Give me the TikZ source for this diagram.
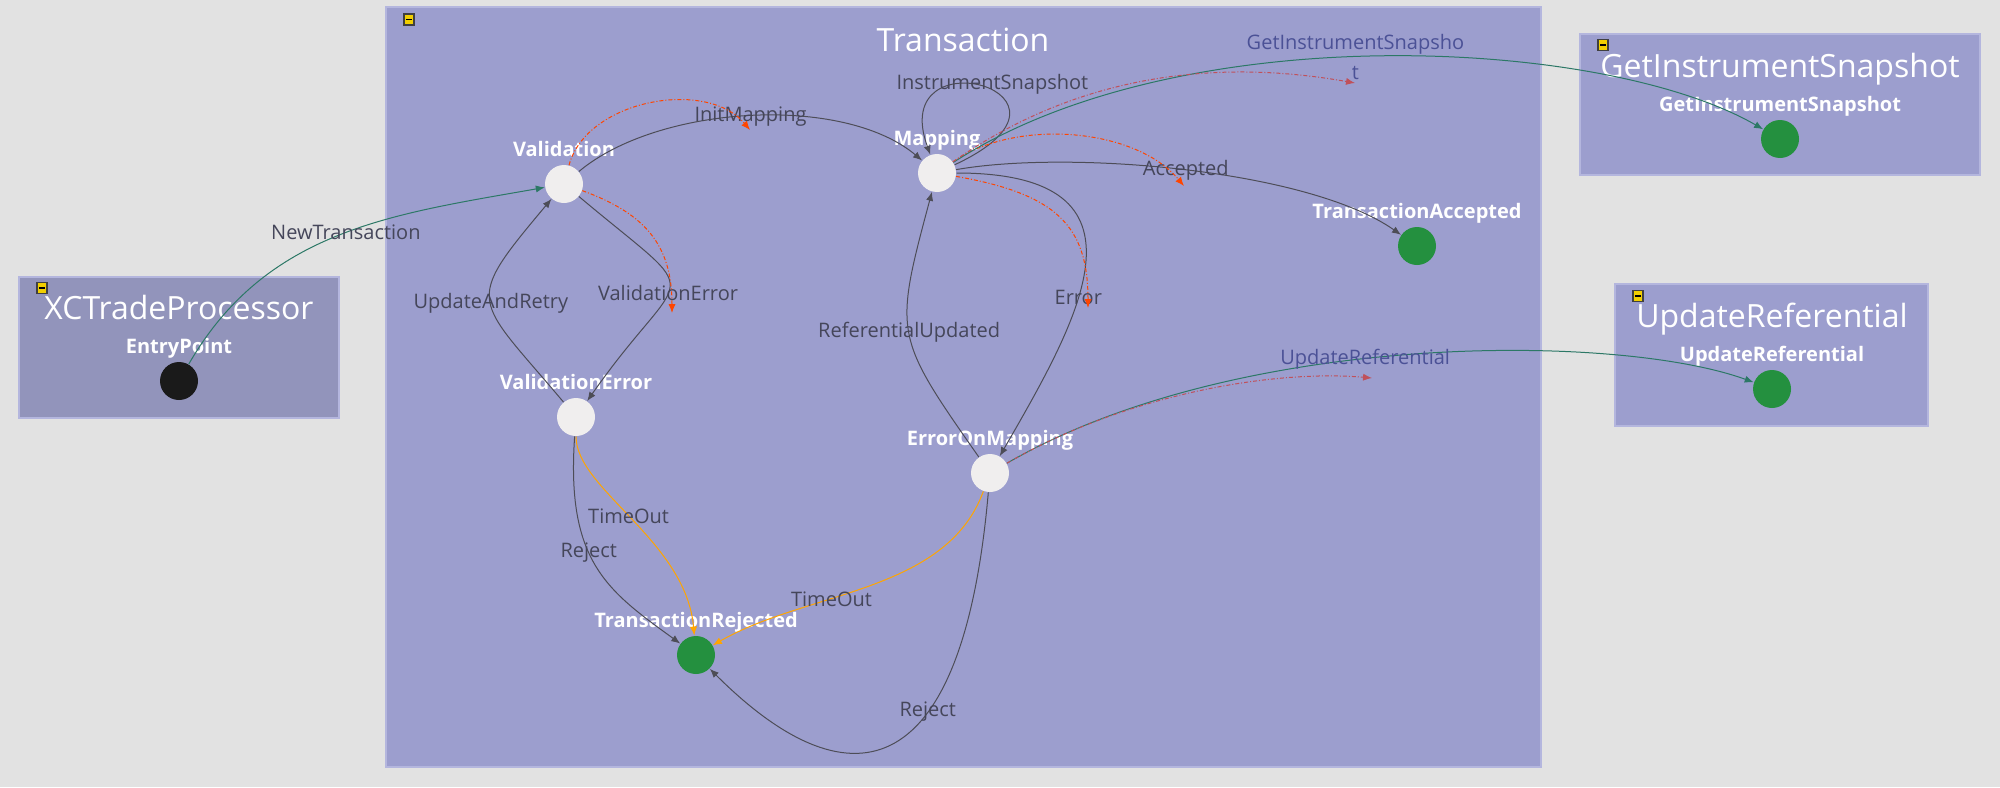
\documentclass[tikz,border=0pt]{standalone}
\usepackage{fontspec}
\setmainfont{Open Sans}
\usepackage{tikz}
\usetikzlibrary{positioning, arrows.meta}

\definecolor{canvasC}{HTML}{E2E2E2}
\definecolor{panelC}{HTML}{9C9ECE}
\definecolor{panelEdge}{HTML}{B4B6DE}
\definecolor{hostC}{HTML}{9294BB}
\definecolor{stateC}{HTML}{F0EEEE}
\definecolor{doneC}{HTML}{24903F}
\definecolor{startC}{HTML}{1A1A1A}
\definecolor{wireC}{HTML}{4D4D57}
\definecolor{textC}{HTML}{45465A}
\definecolor{linkC}{HTML}{2C7866}
\definecolor{linkText}{HTML}{4B5196}
\definecolor{sigC}{HTML}{FF4500}
\definecolor{sigLink}{HTML}{C0505A}
\definecolor{timeC}{HTML}{FFA500}
\definecolor{iconC}{HTML}{F2CF00}

\begin{document}
\begin{tikzpicture}[
        x=0.5pt, y=0.5pt,
        on grid,
        >={Latex[length=4.5pt,width=3.6pt]},
        line width=0.5pt,
        state/.style={circle, fill=stateC, minimum size=19pt, inner sep=0pt},
        endstate/.style={state, fill=doneC},
        entrystate/.style={state, fill=startC},
        stname/.style={font=\bfseries\fontsize{10}{12}\selectfont, text=white, inner sep=0pt, text height=7.5pt, text depth=2.5pt},
        every label/.style={stname},
        label distance=1.3pt,
        panel/.style={fill=panelC, draw=panelEdge, line width=0.75pt},
        paneltitle/.style={font=\fontsize{16}{19}\selectfont, text=white, inner sep=0pt, anchor=base},
        foldbox/.style={draw=black!75, fill=iconC, minimum width=5pt, minimum height=5.5pt, inner sep=0pt, line width=0.6pt},
        every edge/.style={draw, ->, wireC},
        lbl/.style={font=\fontsize{10}{12}\selectfont, text=textC, inner sep=0pt}, % edge labels
        link/.style={draw=linkC},
        sig/.style={draw=sigC, dash pattern=on 2pt off 1pt on 0.5pt off 1pt},
        timeout/.style={draw=timeC}
      ]
        \fill[canvasC] (0,0) rectangle (2000,-787);
        \useasboundingbox (0,0) rectangle (2000,-787);

        % Containers
        \draw[panel, fill=hostC] (19,-277) rectangle (339,-418);
        \draw[panel] (386,-7) rectangle (1541,-767);
        \draw[panel] (1580,-34) rectangle (1980,-175);
        \draw[panel] (1615,-284) rectangle (1928,-426);

        \node[foldbox] (fold_host) at (42,-288) {\rule{3pt}{0.7pt}};
        \node[foldbox] (fold_tx) at (409,-19.5) {\rule{3pt}{0.7pt}};
        \node[foldbox] (fold_snap) at (1603,-45) {\rule{3pt}{0.7pt}};
        \node[foldbox] (fold_ref) at (1638,-296) {\rule{3pt}{0.7pt}};

        \node[paneltitle] (t_host) at (179,-319) {XCTradeProcessor};
        \node[paneltitle] (t_tx) at (963,-51) {Transaction};
        \node[paneltitle] (t_snap) at (1780,-77) {GetInstrumentSnapshot};
        \node[paneltitle] (t_ref) at (1772,-327) {UpdateReferential};

        % States
        \node[entrystate, label=above:EntryPoint] (entry) at (179,-381) {};
        \node[state, label=above:Validation] (val) at (564,-184) {};
        \node[state, label=above:ValidationError, below right=116.5pt and 6pt of val] (verr) {};
        \node[state, label=above:Mapping, above right=5.5pt and 186.5pt of val] (map) {};
        \node[state, label=above:ErrorOnMapping, below right=150pt and 26.5pt of map] (eom) {};
        \node[endstate, label=above:TransactionRejected, below right=119pt and 60pt of verr] (rej) {};
        \node[endstate, label=above:TransactionAccepted, below right=36.5pt and 240pt of map] (acc) {};
        \node[endstate, label=above:GetInstrumentSnapshot] (snap) at (1780,-139) {};
        \node[endstate, label=above:UpdateReferential] (upref) at (1772,-389) {};

        % loose ends of the signals
        \coordinate (tipInit) at (750,-130);
        \coordinate (tipVal) at (672,-313);
        \coordinate (tipAcc) at (1184,-186);
        \coordinate (tipErr) at (1088,-308);
        \coordinate (tipSnap) at (1355,-83);
        \coordinate (tipRef) at (1372,-378);

        % Transitions
        \path
        (entry) edge[link, out=60, in=190, looseness=1] node[lbl, pos=0.52] {NewTransaction} (val)

        (val) edge[out=40, in=140, looseness=0.77] node[lbl, pos=0.5] {InitMapping} (map)
        (val) edge[sig, out=75, in=130, looseness=0.94] (tipInit)

        (val) edge[out=-40, in=55, looseness=2.15] node[lbl, pos=0.55] {ValidationError} (verr)
        (val) edge[sig, out=-20, in=90, looseness=1.14] (tipVal)
        (verr) edge[out=130, in=230, looseness=1.75] node[lbl, pos=0.48] {UpdateAndRetry} (val)

        (map) edge[out=25, in=110, out distance=85pt, in distance=65pt] node[lbl, pos=0.45, yshift=3pt] {InstrumentSnapshot} (map)

        (map) edge[out=10, in=145, looseness=0.65] node[lbl, pos=0.5] {Accepted} (acc)
        (map) edge[sig, out=35, in=130, looseness=0.84] (tipAcc)

        (map) edge[out=0, in=60, out looseness=1.85, in looseness=1.42] node[lbl, pos=0.6] {Error} (eom)
        (map) edge[sig, out=-10, in=90, out looseness=1.39, in looseness=1.13] (tipErr)
        (eom) edge[out=125, in=255, looseness=1.41] node[lbl, pos=0.5] {ReferentialUpdated} (map)

        (map) edge[link, out=33, in=150, out looseness=0.85, in looseness=0.58] node[lbl, text=linkText, align=center, font=\fontsize{10}{15}\selectfont, pos=0.47] {GetInstrumentSnapsho\\t} (snap)
        (map) edge[sig, draw=sigLink, out=35, in=170, out looseness=1.08, in looseness=0.72] (tipSnap)

        (eom) edge[link, out=30, in=160, out looseness=0.91, in looseness=0.49] node[lbl, text=linkText, pos=0.44] {UpdateReferential} (upref)
        (eom) edge[sig, draw=sigLink, out=30, in=175, out looseness=0.97, in looseness=0.65] (tipRef)

        (verr) edge[out=266, in=144, out looseness=1.38, in looseness=0.99] node[lbl, pos=0.42] {Reject} (rej)
        (verr) edge[timeout, out=270, in=95, out looseness=0.58, in looseness=1.05] node[lbl, pos=0.48] {TimeOut} (rej)
        (eom) edge[timeout, out=250, in=30, looseness=0.89] node[lbl, pos=0.62] {TimeOut} (rej)
        (eom) edge[out=265, in=315, out looseness=2.36, in looseness=1.48] node[lbl, pos=0.36] {Reject} (rej);

    \end{tikzpicture}
\end{document}
